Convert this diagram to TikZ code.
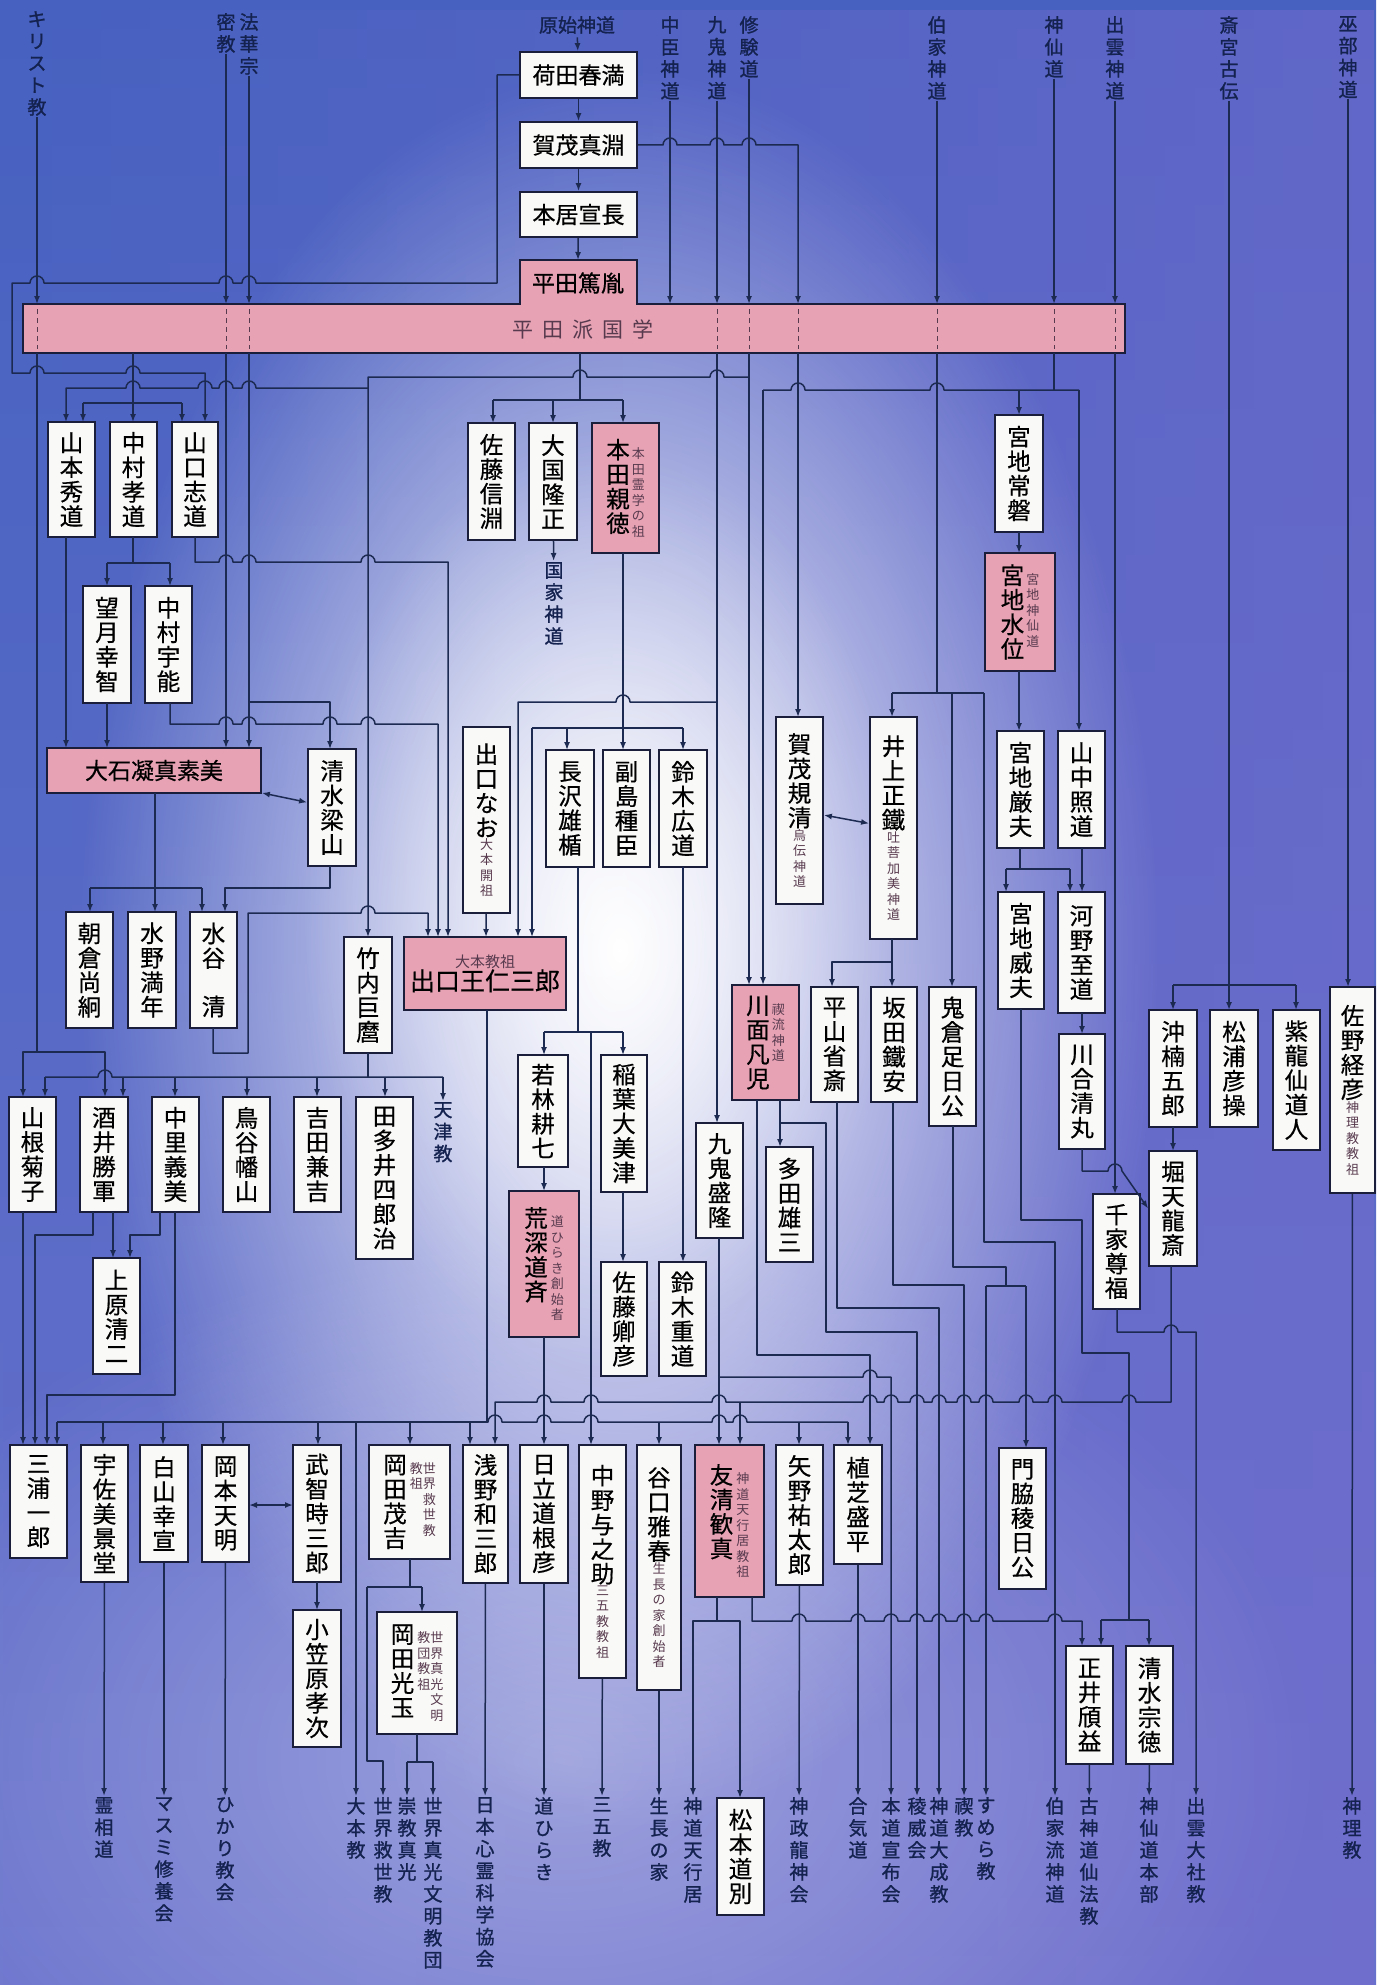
\documentclass[tikz,border=0pt]{standalone}
\usepackage{fontspec}
\usetikzlibrary{arrows.meta,fadings}
\newfontfamily\jp{Noto Sans CJK JP}[FakeBold=0.5]
\newfontfamily\jpb{Noto Sans CJK JP}[FakeBold=1.2]
\newfontfamily\jpl{Noto Sans CJK JP}
\XeTeXlinebreaklocale "ja"
\XeTeXlinebreakskip=0pt plus 1pt

\definecolor{bgtop}{RGB}{70,97,192}
\definecolor{bgbot}{RGB}{104,114,204}
\definecolor{bgtint}{RGB}{118,108,206}
\definecolor{linec}{RGB}{28,42,82}
\definecolor{boxline}{RGB}{26,30,58}
\definecolor{boxfill}{RGB}{249,249,247}
\definecolor{pinkc}{RGB}{231,162,180}
\definecolor{labelc}{RGB}{20,34,80}
\definecolor{annoc}{RGB}{88,58,78}

\newcommand{\bfs}{\jp\fontsize{23.5}{24.5}\selectfont}
\newcommand{\afs}{\jpl\fontsize{13}{15.5}\selectfont}
\newcommand{\lfs}{\jpb\fontsize{19}{22}\selectfont}
\newcommand{\hfs}{\jp\fontsize{23}{26}\selectfont}
\newcommand{\vtx}[2][\bfs]{{#1\begin{minipage}[t]{1em}\centering #2\end{minipage}}}
\newcommand{\atx}[1]{{\color{annoc}\vtx[\afs]{#1}}}

\tikzset{
  conn/.style={draw=linec, line width=1.5pt, line join=round},
  arr/.style={conn, -{Latex[length=8pt,width=6pt]}},
  darr/.style={conn, {Latex[length=8pt,width=6pt]}-{Latex[length=8pt,width=6pt]}},
  namebox/.style={draw=boxline, line width=1.8pt, fill=boxfill, inner sep=0pt, align=center},
  pinkbox/.style={fill=pinkc},
  vlabel/.style={anchor=north, inner sep=1pt, text=labelc},
  barmark/.style={draw=annoc, line width=1pt, dash pattern=on 5pt off 4pt},
}
\tikzfading[name=glowfade, inner color=transparent!0, outer color=transparent!100]
\tikzfading[name=tintright, left color=transparent!100, right color=transparent!45]

% box from its corners
\newcommand{\bx}[7][]{%
  \pgfmathsetmacro{\bxw}{#5-#3}\pgfmathsetmacro{\bxh}{#6-#4}%
  \node[namebox,#1,minimum width=\bxw pt,minimum height=\bxh pt] (#2) at ({(#3+#5)/2},{(#4+#6)/2}) {#7};}
% line jumps, going right / going left
\newcommand{\jr}[2]{\foreach \j in {#2}{ -- (\j-7,#1) arc[start angle=180,end angle=0,radius=7pt]}}
\newcommand{\jl}[2]{\foreach \j in {#2}{ -- (\j+7,#1) arc[start angle=0,end angle=180,radius=7pt]}}
\newcommand{\vlab}[4]{\node[vlabel] (#1) at (#2,#3) {\vtx[\lfs]{#4}};}

\begin{document}
\begin{tikzpicture}[x=1pt,y=-1pt]
\useasboundingbox (0,0) rectangle (1376,1985);
\shade[top color=bgtop,bottom color=bgbot] (0,0) rectangle (1376,1985);
\fill[bgtint,path fading=tintright] (0,0) rectangle (1376,1985);
\fill[white,path fading=glowfade,fill opacity=0.35] (560,1760) ellipse [x radius=760pt,y radius=520pt];
\fill[white,path fading=glowfade] (620,950) ellipse [x radius=540pt,y radius=880pt];
\fill[white,path fading=glowfade,fill opacity=0.6] (600,900) ellipse [x radius=300pt,y radius=460pt];

% sources
\vlab{kirisuto}{37}{10}{キリスト教}
\vlab{mikkyo}{226}{12}{密教}
\vlab{hokke}{249}{12}{法華宗}
\node[text=labelc,font=\lfs] (genshi) at (577,25) {原始神道};
\vlab{nakatomi}{670}{15}{中臣神道}
\vlab{kukishin}{717}{15}{九鬼神道}
\vlab{shugen}{749}{15}{修験道}
\vlab{hakke}{937}{15}{伯家神道}
\vlab{shinsen}{1054}{15}{神仙道}
\vlab{izumoS}{1115}{15}{出雲神道}
\vlab{saigu}{1229}{15}{斎宮古伝}
\vlab{kannabe}{1348}{15}{巫部神道}

% Hirata bar
\draw[line width=1.8pt,draw=boxline,fill=pinkc] (23,304) -- (520,304) -- (520,260) -- (637,260) -- (637,304) -- (1125,304) -- (1125,353) -- (23,353) -- cycle;
\node[font=\hfs] (hirata) at (578,283) {平田篤胤};
\node[font=\jpl\fontsize{21}{24}\selectfont,text=annoc] (kokugaku) at (583,330) {平\hspace{9pt}田\hspace{9pt}派\hspace{9pt}国\hspace{9pt}学};
\foreach \x in {37,226,249,717,749,798,937,1054,1115} \draw[barmark] (\x,309) -- (\x,349);

% boxes
\bx[font=\hfs]{hada}{520}{52}{637}{98}{荷田春満}
\bx[font=\hfs]{kamo}{520}{122}{637}{168}{賀茂真淵}
\bx[font=\hfs]{motoori}{520}{192}{637}{237}{本居宣長}
\bx{yamamoto}{48}{422}{95}{537}{\vtx{山本秀道}}
\bx{nakamuraK}{110}{422}{157}{537}{\vtx{中村孝道}}
\bx{yamaguchi}{172}{422}{218}{537}{\vtx{山口志道}}
\bx{satoN}{468}{423}{515}{540}{\vtx{佐藤信淵}}
\bx{okuni}{529}{423}{577}{540}{\vtx{大国隆正}}
\bx[pinkbox]{honda}{592}{423}{659}{553}{\vtx{本田親徳}\hspace{2pt}\atx{本田霊学の祖}}
\bx{miyajiT}{995}{415}{1043}{532}{\vtx{宮地常磐}}
\bx{mochizuki}{83}{586}{131}{703}{\vtx{望月幸智}}
\bx{nakamuraU}{145}{586}{192}{703}{\vtx{中村宇能}}
\bx[pinkbox]{miyajiS}{985}{553}{1055}{671}{\vtx{宮地水位}\hspace{2pt}\atx{宮地神仙道}}
\bx[pinkbox,font=\hfs]{oishi}{47}{748}{261}{793}{大石凝真素美}
\bx{shimizuR}{308}{749}{356}{866}{\vtx{清水梁山}}
\bx{deguchiN}{463}{727}{510}{913}{\vtx{出口なお}\\\atx{大本開祖}}
\bx{nagasawa}{546}{750}{594}{867}{\vtx{長沢雄楯}}
\bx{soejima}{603}{750}{650}{867}{\vtx{副島種臣}}
\bx{suzukiH}{659}{750}{707}{867}{\vtx{鈴木広道}}
\bx{kamoN}{776}{717}{823}{904}{\vtx{賀茂規清}\\\atx{烏伝神道}}
\bx{inoue}{870}{717}{917}{939}{\vtx{井上正鐵}\\\atx{吐菩加美神道}}
\bx{miyajiI}{997}{731}{1044}{848}{\vtx{宮地厳夫}}
\bx{yamanaka}{1058}{731}{1105}{848}{\vtx{山中照道}}
\bx{asakura}{66}{912}{113}{1028}{\vtx{朝倉尚絅}}
\bx{mizuno}{128}{912}{176}{1028}{\vtx{水野満年}}
\bx{mizutani}{190}{912}{237}{1028}{\vtx{水谷\par\vspace{24pt}清}}
\bx{takeuchi}{344}{937}{392}{1053}{\vtx{竹内巨麿}}
\bx[pinkbox]{onisaburo}{404}{937}{566}{1010}{{\color{annoc}\jpl\fontsize{15}{17}\selectfont 大本教祖}\\{\jp\fontsize{25}{28}\selectfont 出口王仁三郎}}
\bx{miyajiTa}{998}{892}{1044}{1009}{\vtx{宮地威夫}}
\bx{kono}{1058}{892}{1105}{1013}{\vtx{河野至道}}
\bx[pinkbox]{kawatsura}{732}{985}{799}{1100}{\vtx{川面凡児}\hspace{2pt}\atx{禊流神道}}
\bx{hirayama}{811}{987}{858}{1102}{\vtx{平山省斎}}
\bx{sakata}{871}{987}{917}{1102}{\vtx{坂田鐵安}}
\bx{kikura}{929}{987}{976}{1126}{\vtx{鬼倉足日公}}
\bx{kawai}{1059}{1034}{1105}{1149}{\vtx{川合清丸}}
\bx{okikusu}{1149}{1010}{1197}{1127}{\vtx{沖楠五郎}}
\bx{matsuura}{1210}{1010}{1258}{1127}{\vtx{松浦彦操}}
\bx{shiryu}{1273}{1010}{1320}{1150}{\vtx{紫龍仙道人}}
\bx{sano}{1330}{987}{1375}{1193}{\vtx{佐野経彦}\\\atx{神理教教祖}}
\bx{hori}{1149}{1151}{1197}{1266}{\vtx{堀天龍斎}}
\bx{senge}{1093}{1194}{1140}{1309}{\vtx{千家尊福}}
\bx{yamane}{9}{1097}{56}{1212}{\vtx{山根菊子}}
\bx{sakai}{80}{1097}{128}{1212}{\vtx{酒井勝軍}}
\bx{nakazato}{152}{1097}{199}{1212}{\vtx{中里義美}}
\bx{toya}{223}{1097}{270}{1212}{\vtx{鳥谷幡山}}
\bx{yoshida}{294}{1097}{341}{1212}{\vtx{吉田兼吉}}
\bx{tatai}{356}{1097}{413}{1259}{\vtx{田多井四郎治}}
\bx{uehara}{93}{1258}{140}{1374}{\vtx{上原清二}}
\bx{wakabayashi}{518}{1055}{568}{1167}{\vtx{若林耕七}}
\bx{inaba}{601}{1055}{647}{1192}{\vtx{稲葉大美津}}
\bx{kuki}{696}{1123}{743}{1238}{\vtx{九鬼盛隆}}
\bx{tada}{766}{1147}{813}{1262}{\vtx{多田雄三}}
\bx[pinkbox]{arafuka}{509}{1191}{579}{1337}{\vtx{荒深道斉}\hspace{3pt}\atx{道ひらき創始者}}
\bx{satoK}{601}{1262}{647}{1376}{\vtx{佐藤卿彦}}
\bx{suzukiS}{659}{1262}{706}{1376}{\vtx{鈴木重道}}
\bx{kadowaki}{999}{1448}{1046}{1589}{\vtx{門脇稜日公}}
\bx{miura}{10}{1445}{67}{1558}{\vtx{三浦一郎}}
\bx{usami}{81}{1445}{128}{1582}{\vtx{宇佐美景堂}}
\bx{shirayama}{140}{1445}{188}{1562}{\vtx{白山幸宣}}
\bx{okamoto}{202}{1445}{249}{1562}{\vtx{岡本天明}}
\bx{takechi}{293}{1445}{341}{1582}{\vtx{武智時三郎}}
\bx{okadaM}{369}{1445}{450}{1559}{\vtx{岡田茂吉}\hspace{3pt}\atx{教祖}\atx{世界救世教}}
\bx{asano}{463}{1445}{508}{1583}{\vtx{浅野和三郎}}
\bx{hitachi}{520}{1445}{568}{1583}{\vtx{日立道根彦}}
\bx{nakano}{579}{1445}{626}{1678}{\vtx{中野与之助}\\\atx{三五教教祖}}
\bx{taniguchi}{637}{1445}{681}{1690}{\vtx{谷口雅春}\\\atx{生長の家創始者}}
\bx[pinkbox]{tomokiyo}{695}{1445}{764}{1597}{\vtx{友清歓真}\hspace{3pt}\atx{神道天行居教祖}}
\bx{yano}{776}{1445}{823}{1585}{\vtx{矢野祐太郎}}
\bx{ueshiba}{834}{1445}{882}{1564}{\vtx{植芝盛平}}
\bx{ogasawara}{293}{1610}{341}{1747}{\vtx{小笠原孝次}}
\bx{okadaK}{377}{1612}{457}{1734}{\vtx{岡田光玉}\hspace{3pt}\atx{教団教祖}\atx{世界真光文明}}
\bx{matsumoto}{717}{1798}{764}{1915}{\vtx{松本道別}}
\bx{masai}{1066}{1646}{1113}{1764}{\vtx{正井頎益}}
\bx{shimizuS}{1126}{1646}{1173}{1764}{\vtx{清水宗徳}}

% middle labels
\vlab{kokka}{554}{561}{国家神道}
\vlab{amatsu}{443}{1101}{天津教}
% end labels
\vlab{reiso}{104}{1796}{霊相道}
\vlab{masumi}{164}{1796}{マスミ修養会}
\vlab{hikari}{225}{1796}{ひかり教会}
\vlab{oomoto}{356}{1796}{大本教}
\vlab{kyusei}{383}{1796}{世界救世教}
\vlab{sukyo}{407}{1796}{崇教真光}
\vlab{bunmei}{433}{1796}{世界真光文明教団}
\vlab{shinrei}{485}{1796}{日本心霊科学協会}
\vlab{michi}{544}{1796}{道ひらき}
\vlab{sango}{602}{1796}{三五教}
\vlab{seicho}{659}{1796}{生長の家}
\vlab{tenko}{693}{1796}{神道天行居}
\vlab{shinsei}{799}{1796}{神政龍神会}
\vlab{aiki}{858}{1796}{合気道}
\vlab{hondo}{891}{1796}{本道宣布会}
\vlab{itsu}{917}{1796}{稜威会}
\vlab{taisei}{939}{1796}{神道大成教}
\vlab{misogi}{964}{1796}{禊教}
\vlab{sumera}{986}{1796}{すめら教}
\vlab{hakkeryu}{1055}{1796}{伯家流神道}
\vlab{senpo}{1089}{1796}{古神道仙法教}
\vlab{sendo}{1149}{1796}{神仙道本部}
\vlab{taisha}{1196}{1796}{出雲大社教}
\vlab{shinri}{1352}{1796}{神理教}

% top chain
\draw[arr] (genshi) -- (hada);
\draw[arr] (hada) -- (kamo);
\draw[arr] (kamo) -- (motoori);
\draw[arr] (motoori) -- (578,260);
\draw[arr] (hada.west) -- (497,75) -- (497,283) \jl{283}{249,226,37} -- (12,283) -- (12,373) \jr{373}{37,133} -- (205,373) -- (205,422);
\draw[arr] (kamo.east) \jr{145}{670,717,749} -- (798,145) -- (798,304);
\draw[arr] (798,353) -- (798,717);

% source lines into the bar
\draw[arr] (kirisuto) -- (37,304);
\draw[arr] (mikkyo) -- (226,304);
\draw[arr] (hokke) -- (249,304);
\draw[arr] (nakatomi) -- (670,304);
\draw[arr] (kukishin) -- (717,304);
\draw[arr] (shugen) -- (749,304);
\draw[arr] (hakke) -- (937,304);
\draw[arr] (shinsen) -- (1054,304);
\draw[arr] (izumoS) -- (1115,304);

% below the bar
\draw[arr] (37,353) -- (37,1052) -| (23,1097);
\draw[arr] (37,1052) -| (105,1097);
\draw[arr] (226,353) -- (226,748);
\draw[arr] (249,353) -- (249,748);
\draw[arr] (249,702) -| (330,749);
\draw[arr] (717,353) -- (717,1123);
\draw[arr] (717,702) \jl{702}{623} -- (518,702) -- (518,937);
\draw[arr] (749,353) -- (749,985);
\draw[arr] (749,377) \jl{377}{717,580} -- (368,377) -- (368,937);
\draw[arr] (368,388) \jl{388}{249,226,205,133} -- (66,388) -- (66,422);
\draw[conn] (937,353) -- (937,693);
\draw[conn] (892,693) -- (984,693);
\draw[arr] (892,693) -- (892,717);
\draw[arr] (952,693) -- (952,987);
\draw[arr] (984,693) |- (1055,1242) -- (hakkeryu);
\draw[conn] (1054,353) -- (1054,390);
\draw[conn] (763,390) \jr{390}{798,937} -- (1079,390);
\draw[arr] (763,390) -- (763,985);
\draw[arr] (1019,390) -- (1019,415);
\draw[arr] (1079,390) -- (1079,731);
\draw[arr] (1115,353) -- (1115,1194);
\draw[conn] (saigu) -- (1229,985);
\draw[conn] (1173,985) -- (1296,985);
\foreach \x in {1173,1229,1296} \draw[arr] (\x,985) -- (\x,1010);
\draw[arr] (kannabe) -- (1348,987);
\draw[conn] (580,353) -- (580,400);
\draw[conn] (493,400) -- (623,400);
\foreach \x in {493,553,623} \draw[arr] (\x,400) -- (\x,423);
\draw[arr] (133,353) -- (133,422);
\draw[conn] (83,403) -- (182,403);
\foreach \x in {83,182} \draw[arr] (\x,403) -- (\x,422);

% second row
\draw[arr] (okuni) -- (kokka);
\draw[arr] (623,553) -- (623,750);
\draw[conn] (532,728) -- (683,728);
\draw[arr] (532,728) -- (532,937);
\draw[arr] (567,728) -- (567,750);
\draw[arr] (683,728) -- (683,750);
\draw[arr] (1019,532) -- (1019,553);
\draw[arr] (1019,671) -- (1019,731);
\draw[arr] (1082,848) -- (1082,892);
\draw[conn] (1020,848) -- (1020,869);
\draw[conn] (1006,869) -- (1070,869);
\foreach \x in {1006,1070} \draw[arr] (\x,869) -- (\x,892);
\draw[conn] (133,537) -- (133,563);
\draw[conn] (107,563) -- (170,563);
\foreach \x in {107,170} \draw[arr] (\x,563) -- (\x,586);
\draw[arr] (66,537) -- (66,748);
\draw[arr] (107,703) -- (107,748);
\draw[arr] (195,537) -- (195,562) \jr{562}{226,249,368} -- (448,562) -- (448,937);
\draw[arr] (170,703) -- (170,724) \jr{724}{226,249,330,368} -- (438,724) -- (438,937);
\draw[darr] (oishi) -- (shimizuR);
\draw[arr] (155,793) -- (155,912);
\draw[conn] (90,888) -- (202,888);
\foreach \x in {90,202} \draw[arr] (\x,888) -- (\x,912);
\draw[arr] (330,866) |- (225,888) -- (225,912);
\draw[arr] (deguchiN) -- (486,937);
\draw[arr] (213,1028) -- (213,1053) -- (248,1053) -- (248,913) \jr{913}{368} -- (428,913) -- (428,937);

% Takeuchi group
\draw[conn] (368,1053) -- (368,1077);
\draw[conn] (45,1077) \jr{1077}{105} -- (443,1077);
\foreach \x in {45,123,175,247,317,385} \draw[arr] (\x,1077) -- (\x,1097);
\draw[arr] (443,1077) -- (amatsu);
\draw[arr] (23,1212) -- (23,1445);
\draw[arr] (93,1212) -- (93,1235) -- (35,1235) -- (35,1445);
\draw[arr] (113,1212) -- (113,1258);
\draw[arr] (160,1212) -- (160,1235) -- (130,1235) -- (130,1258);
\draw[arr] (175,1212) -- (175,1395) -- (47,1395) -- (47,1445);

% Nagasawa group
\draw[conn] (578,867) -- (578,1032);
\draw[conn] (544,1032) -- (623,1032);
\foreach \x in {544,623} \draw[arr] (\x,1032) -- (\x,1055);
\draw[arr] (591,1032) -- (591,1445);
\draw[arr] (683,867) -- (683,1262);
\draw[arr] (623,1192) -- (623,1262);
\draw[arr] (544,1167) -- (544,1191);
\draw[arr] (544,1337) -- (544,1445);
\draw[arr] (719,1238) -- (719,1445);
\draw[arr] (719,1377) \jr{1377}{870} -- (891,1377) -- (hondo);

% Kawatsura, Inoue, Kikura
\draw[arr] (780,1100) -- (780,1147);
\draw[arr] (780,1123) -| (826,1332) -- (917,1332) -- (itsu);
\draw[arr] (757,1100) -- (757,1355) -- (870,1355) -- (870,1445);
\draw[darr] (kamoN) -- (inoue);
\draw[arr] (892,939) -- (892,987);
\draw[arr] (892,962) -- (832,962) -- (832,987);
\draw[arr] (837,1102) |- (939,1308) -- (taisei);
\draw[arr] (893,1102) |- (964,1285) -- (misogi);
\draw[conn] (953,1126) |- (1006,1267) -- (1006,1286);
\draw[conn] (986,1286) -- (1026,1286);
\draw[arr] (986,1286) -- (sumera);
\draw[arr] (1026,1286) -- (1026,1448);

% Miyaji line
\draw[conn] (1021,1009) |- (1082,1220) |- (1129,1353) -- (1129,1620);
\draw[conn] (1101,1620) -- (1149,1620);
\foreach \x in {1101,1149} \draw[arr] (\x,1620) -- (\x,1646);
\draw[arr] (1082,1013) -- (1082,1034);
\draw[arr] (1082,1149) -- (1082,1171) \jr{1171}{1115} -- (hori.west);
\draw[arr] (1173,1127) -- (1173,1151);
\draw[arr] (1171,1266) -- (1171,1402) \jl{1402}{1129,1055,1026,986,964,939,917,891,870} -- (740,1402) \jl{1402}{719,591,544} -- (495,1402) -- (495,1445);
\draw[arr] (740,1402) -- (740,1445);
\draw[arr] (1117,1309) -- (1117,1332) \jr{1332}{1171} -- (1196,1332) -- (taisha);

% Tomokiyo
\draw[arr] (717,1597) -- (717,1621) -| (tenko);
\draw[arr] (717,1621) -| (740,1798);
\draw[arr] (752,1597) -- (752,1621) \jr{1621}{799,858,891,917,939,964,986,1055} -- (1082,1621) -- (1082,1646);

% Deguchi Onisaburo descendants
\draw[conn] (487,1010) -- (487,1422);
\draw[conn] (57,1422) -- (487,1422);
\draw[conn] (487,1422) \jr{1422}{495,544,591,719,740} -- (848,1422);
\foreach \x in {57,103,163,223,318,410,470,659,799,848} \draw[arr] (\x,1422) -- (\x,1445);
\draw[arr] (356,1422) -- (oomoto);

% lower left
\draw[arr] (317,1582) -- (317,1610);
\draw[darr] (249,1505) -- (293,1505);
\draw[conn] (410,1559) -- (410,1587);
\draw[conn] (367,1587) -- (422,1587);
\draw[arr] (422,1587) -- (422,1612);
\draw[arr] (367,1587) |- (383,1761) -- (kyusei);
\draw[conn] (417,1734) -- (417,1762);
\draw[conn] (407,1762) -- (433,1762);
\draw[arr] (407,1762) -- (sukyo);
\draw[arr] (433,1762) -- (bunmei);

% to the end labels
\draw[arr] (usami) -- (reiso);
\draw[arr] (shirayama) -- (masumi);
\draw[arr] (okamoto) -- (hikari);
\draw[arr] (asano) -- (shinrei);
\draw[arr] (hitachi) -- (michi);
\draw[arr] (nakano) -- (sango);
\draw[arr] (taniguchi) -- (seicho);
\draw[arr] (yano) -- (shinsei);
\draw[arr] (ueshiba) -- (aiki);
\draw[arr] (masai) -- (senpo);
\draw[arr] (shimizuS) -- (sendo);
\draw[arr] (sano) -- (shinri);
\end{tikzpicture}
\end{document}
